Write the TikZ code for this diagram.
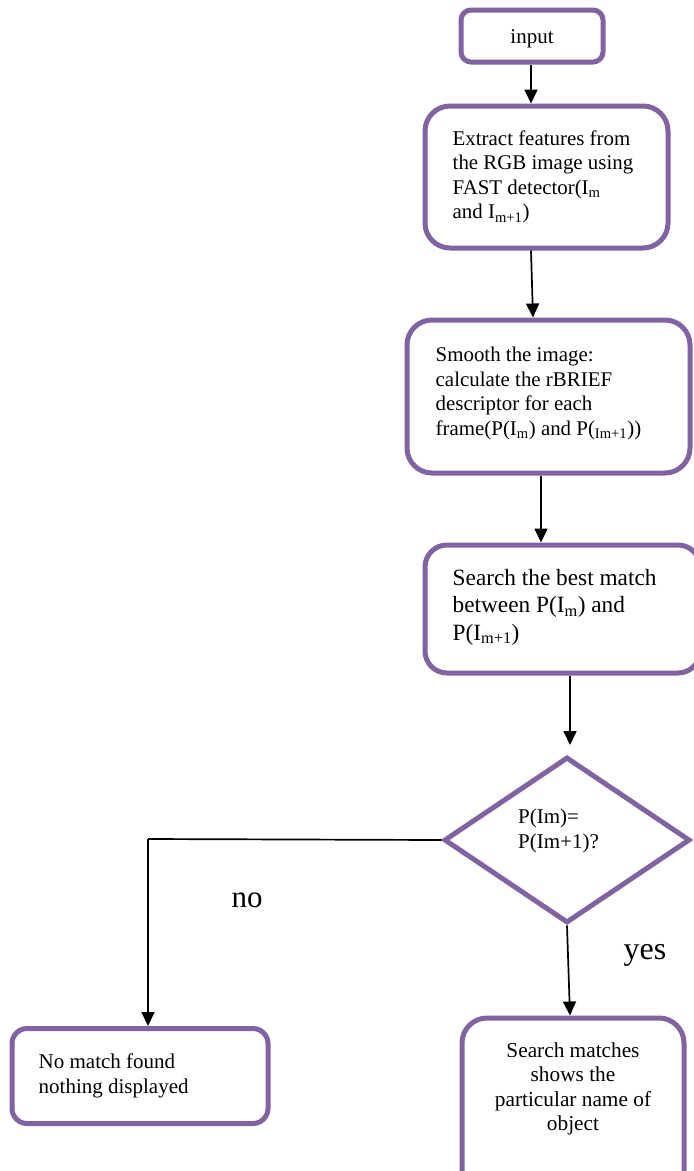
\documentclass[tikz,border=0pt]{standalone}
\usepackage{fontspec}
\setmainfont{Liberation Serif}
\usetikzlibrary{shapes.geometric,arrows.meta}
\definecolor{boxpurple}{HTML}{8064A2}
\newcommand{\sbs}[1]{\textsubscript{#1}}
\begin{document}
\begin{tikzpicture}[x=1pt,y=-1pt,
  box/.style={draw=boxpurple,line width=5pt,fill=white,inner sep=0pt},
  txt/.style={anchor=west,align=left,inner sep=0pt},
  arr/.style={line width=1.7pt,-{Triangle[length=14pt,width=13pt]}},
  plain/.style={line width=1.7pt}]
\useasboundingbox (0,0) rectangle (694,1171);
\clip (0,0) rectangle (694,1171);
\fill[white] (0,0) rectangle (694,1171);
% boxes
\node[box,rounded corners=10pt,minimum width=142pt,minimum height=52pt] (input) at (532,36) {};
\node[box,rounded corners=25pt,minimum width=243pt,minimum height=142pt] (extract) at (546.5,177) {};
\node[box,rounded corners=25pt,minimum width=283pt,minimum height=153pt] (smooth) at (548.5,396.5) {};
\node[box,rounded corners=22pt,minimum width=275pt,minimum height=128pt] (search) at (562.5,609) {};
\node[box,diamond,minimum width=246pt,minimum height=166pt] (dec) at (567,840) {};
\node[box,rounded corners=15pt,minimum width=256pt,minimum height=95pt] (no) at (140,1076) {};
\node[box,rounded corners=25pt,minimum width=222pt,minimum height=182pt] (match) at (573,1109) {};
% texts
\node[inner sep=0pt,font=\fontsize{21}{24}\selectfont] (inputtext) at (532,39) {input};
\node[txt,xshift=30pt,font=\fontsize{20.9}{24.5}\selectfont] (extracttext) at (extract.west) {Extract features from\\the RGB image using\\FAST detector(I\sbs{m}\\and I\sbs{m+1})};
\node[txt,xshift=31pt,yshift=3pt,font=\fontsize{20.9}{24.5}\selectfont] (smoothtext) at (smooth.west) {Smooth the image:\\calculate the rBRIEF\\descriptor for each\\frame(P(I\sbs{m}) and P(\sbs{Im+1}))};
\node[txt,xshift=30pt,yshift=2pt,font=\fontsize{23.3}{27.5}\selectfont] (searchtext) at (search.west) {Search the best match\\between P(I\sbs{m}) and\\P(I\sbs{m+1})};
\node[txt,font=\fontsize{21}{25}\selectfont] (dectext) at (518,831) {P(Im)=\\P(Im+1)?};
\node[txt,xshift=29pt,font=\fontsize{21}{24.5}\selectfont] (notext) at (no.west) {No match found\\nothing displayed};
\node[align=center,inner sep=0pt,font=\fontsize{21.3}{24.5}\selectfont] (matchtext) at (573,1089) {Search matches\\shows the\\particular name of\\object};
\node[font=\fontsize{31}{36}\selectfont,inner sep=0pt] (nolab) at (247,900) {no};
\node[font=\fontsize{32}{36}\selectfont,inner sep=0pt] (yeslab) at (645,955) {yes};
% connector helpers
\coordinate (x531) at (531,0);
\coordinate (x533) at (533,0);
\coordinate (x541) at (541,0);
\coordinate (x570) at (570,0);
\coordinate (stop) at (570,745);
\coordinate (bend) at (148,839);
% connectors
\draw[arr] (input.south -| x531) -- (extract.north -| x531);
\draw[arr] (extract.south -| x531) -- (smooth.north -| x533);
\draw[arr] (smooth.south -| x541) -- (search.north -| x541);
\draw[arr] (search.south -| x570) -- (stop);
\draw[plain] (dec.west) -- (bend);
\draw[arr] (bend) -- (bend |- no.north);
\draw[arr] (dec.south) -- (match.north -| x570);
\end{tikzpicture}
\end{document}
